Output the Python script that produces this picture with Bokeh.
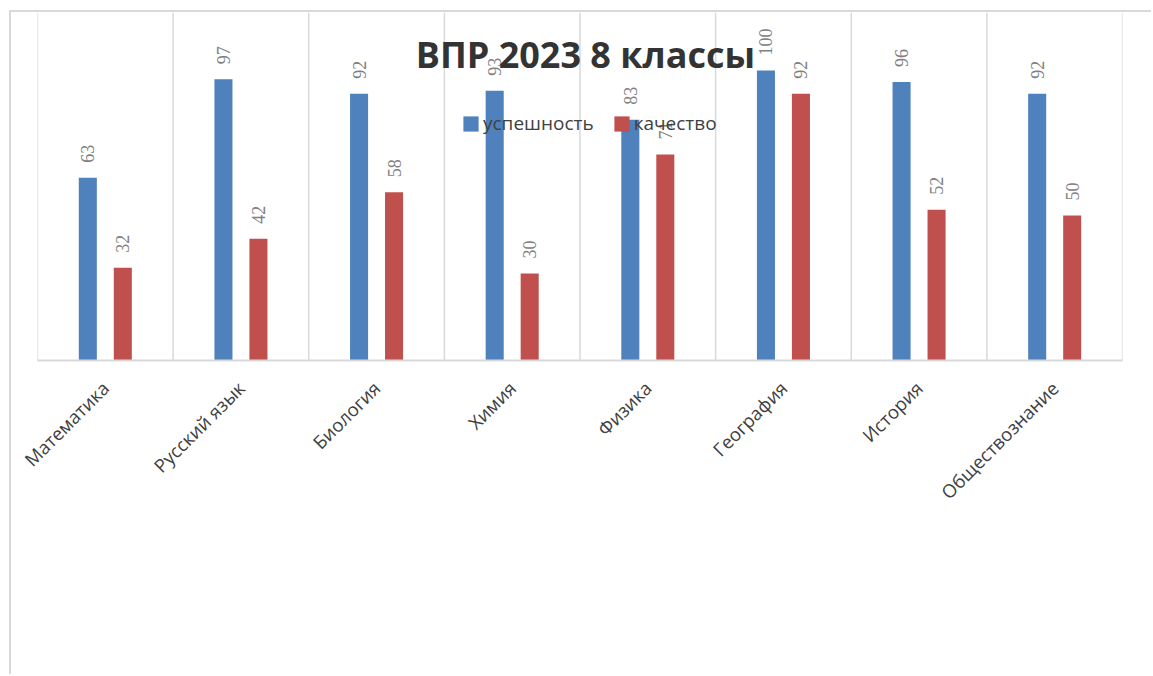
from math import pi
from bokeh.plotting import figure
from bokeh.models import (FactorRange, Range1d, Span, LabelSet, Label, Legend,
                          LegendItem, ColumnDataSource)
from bokeh.transform import dodge
from bokeh.embed import file_html
from bokeh.resources import INLINE

categories = ["Математика", "Русский язык", "Биология", "Химия", "Физика",
              "География", "История", "Обществознание"]
success = [63, 97, 92, 93, 83, 100, 96, 92]
quality = [32, 42, 58, 30, 71, 92, 52, 50]
series_names = ["успешность", "качество"]
title_text = "ВПР 2023 8 классы"

BLUE = "#4f81bd"
RED = "#c0504d"
GRID = "#d9d9d9"
FONT = "Open Sans"

src = ColumnDataSource(dict(cat=categories, s=success, q=quality,
                            sl=[str(v) for v in success],
                            ql=[str(v) for v in quality]))

p = figure(x_range=FactorRange(*categories), y_range=Range1d(0, 120),
           width=1142, height=664, output_backend="svg", toolbar_location=None,
           y_axis_location=None, min_border_left=26, min_border_right=31,
           min_border_top=0, min_border_bottom=316)
p.styles = {"margin-left": "9px", "margin-top": "10px",
            "border-left": "2px solid " + GRID, "border-top": "2px solid " + GRID}
p.outline_line_color = None
p.xgrid.visible = False
p.ygrid.visible = False

for k in range(len(categories) + 1):
    p.add_layout(Span(location=k, dimension="height", line_color=GRID, line_width=1.5))

off = 0.129
w = 0.133
r1 = p.vbar(x=dodge("cat", -off, range=p.x_range), top="s", width=w, source=src,
            fill_color=BLUE, line_color=None)
r2 = p.vbar(x=dodge("cat", off, range=p.x_range), top="q", width=w, source=src,
            fill_color=RED, line_color=None)

for col, lab, o in (("s", "sl", -off), ("q", "ql", off)):
    p.add_layout(LabelSet(x=dodge("cat", o, range=p.x_range), y=col, text=lab,
                          source=src, angle=pi / 2, y_offset=15,
                          text_align="left", text_baseline="middle",
                          text_font=FONT, text_font_size="18px",
                          text_color="#808080"))

p.xaxis.axis_line_color = GRID
p.xaxis.axis_line_width = 2
p.xaxis.major_tick_line_color = None
p.xaxis.minor_tick_line_color = None
p.xaxis.major_label_orientation = pi / 4
p.xaxis.major_label_standoff = 18
p.xaxis.major_label_text_font = FONT
p.xaxis.major_label_text_font_size = "18.5px"
p.xaxis.major_label_text_color = "#404040"

legend = Legend(items=[LegendItem(label=series_names[0], renderers=[r1]),
                       LegendItem(label=series_names[1], renderers=[r2])],
                orientation="horizontal", location=(424, 224),
                glyph_width=19, glyph_height=19, label_standoff=3, spacing=18,
                padding=0, margin=0, border_line_color=None,
                background_fill_alpha=0,
                label_text_font=FONT, label_text_font_size="19px",
                label_text_color="#404040")
p.add_layout(legend)

p.add_layout(Label(x=4.04, y=105.5, text=title_text, text_align="center",
                   text_baseline="middle", text_font=FONT,
                   text_font_size="36px", text_font_style="bold",
                   text_color="#333333"))

open("out.html", "w").write(file_html(p, INLINE))
